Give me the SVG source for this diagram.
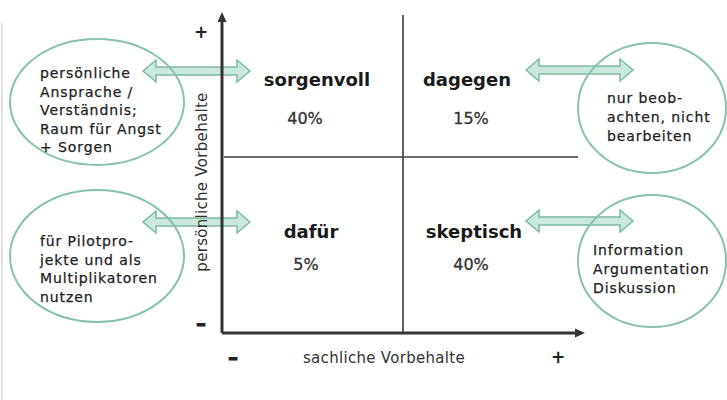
<svg xmlns="http://www.w3.org/2000/svg" xmlns:xlink="http://www.w3.org/1999/xlink" width="727" height="400" viewBox="0 0 727 400">
<style>
.ell{fill:none;stroke:#88c2ac;stroke-width:2}
.et{font-family:"DejaVu Sans",Verdana,sans-serif;font-size:14px;letter-spacing:0.9px;fill:#222;stroke:#222;stroke-width:0.25}
.ql{font-family:"DejaVu Sans",Verdana,sans-serif;font-size:18px;font-weight:bold;fill:#1a1a1a;text-anchor:middle}
.pc{font-family:"DejaVu Sans",Verdana,sans-serif;font-size:16px;fill:#333;stroke:#333;stroke-width:0.3;text-anchor:middle}
.ax{font-family:"DejaVu Sans",Verdana,sans-serif;font-size:15px;letter-spacing:0.3px;fill:#333;text-anchor:middle}
.sg{font-family:"DejaVu Sans",Verdana,sans-serif;font-size:17px;font-weight:bold;fill:#222;text-anchor:middle}
.mn{font-family:"DejaVu Sans",Verdana,sans-serif;font-size:20px;font-weight:bold;fill:#222;stroke:#222;stroke-width:0.9;text-anchor:middle}
.arr{fill:#b8e0cf;fill-opacity:0.75;stroke:#7cb9a0;stroke-width:1.5}
.axis{stroke:#333;stroke-width:3;fill:none}
.grid{stroke:#3a3a3a;stroke-width:1.6;fill:none}
</style>
<defs>
<path id="dbl" d="M0,0 L13,-11 L13,-4 L94,-4 L94,-11 L107,0 L94,11 L94,4 L13,4 L13,11 Z"/>
</defs>
<rect width="727" height="400" fill="#fff"/>
<line x1="2" y1="23" x2="2" y2="400" stroke="#d8d8d8" stroke-width="1.5"/>

<g id="connectors">
<use xlink:href="#dbl" class="arr" transform="translate(143,71)"/>
<use xlink:href="#dbl" class="arr" transform="translate(143,222)"/>
<use xlink:href="#dbl" class="arr" transform="translate(526,70)"/>
<use xlink:href="#dbl" class="arr" transform="translate(526,221)"/>
</g>

<g id="axes">
<line class="axis" x1="222" y1="20" x2="222" y2="333"/>
<polygon points="222,12 217.5,22 226.5,22" fill="#333"/>
<line class="axis" x1="222" y1="333" x2="576" y2="333"/>
<polygon points="585,333 575,328.5 575,337.5" fill="#333"/>
<line class="grid" x1="403" y1="15" x2="403" y2="332"/>
<line class="grid" x1="224" y1="157" x2="578" y2="157"/>
<text class="sg" x="201" y="38">+</text>
<text class="mn" x="201" y="330">–</text>
<text class="mn" x="233" y="364">–</text>
<text class="sg" x="558" y="363">+</text>
<text class="ax" transform="translate(207,182) rotate(-90)">persönliche Vorbehalte</text>
<text class="ax" x="384" y="363">sachliche Vorbehalte</text>
</g>

<g id="q-sorgenvoll">
<text class="ql" x="317" y="86">sorgenvoll</text>
<text class="pc" x="305" y="124">40%</text>
</g>
<g id="q-dagegen">
<text class="ql" x="467" y="86">dagegen</text>
<text class="pc" x="471" y="124">15%</text>
</g>
<g id="q-dafuer">
<text class="ql" x="311" y="238">dafür</text>
<text class="pc" x="306" y="270">5%</text>
</g>
<g id="q-skeptisch">
<text class="ql" x="474" y="238">skeptisch</text>
<text class="pc" x="471" y="270">40%</text>
</g>

<g id="e-sorgen">
<ellipse class="ell" cx="97" cy="102" rx="87" ry="63"/>
<text class="et" x="40" y="78">persönliche</text>
<text class="et" x="40" y="96.5">Ansprache /</text>
<text class="et" x="40" y="115">Verständnis;</text>
<text class="et" x="40" y="133.5">Raum für Angst</text>
<text class="et" x="40" y="152">+ Sorgen</text>
</g>
<g id="e-pilot">
<ellipse class="ell" cx="97" cy="256" rx="87" ry="66"/>
<text class="et" x="40" y="246">für Pilotpro-</text>
<text class="et" x="40" y="264.5">jekte und als</text>
<text class="et" x="40" y="283">Multiplikatoren</text>
<text class="et" x="40" y="301.5">nutzen</text>
</g>
<g id="e-beob">
<ellipse class="ell" cx="652" cy="108" rx="74" ry="65"/>
<text class="et" x="607" y="103">nur beob-</text>
<text class="et" x="607" y="122">achten, nicht</text>
<text class="et" x="607" y="141">bearbeiten</text>
</g>
<g id="e-info">
<ellipse class="ell" cx="652" cy="261" rx="74" ry="66"/>
<text class="et" x="593" y="255">Information</text>
<text class="et" x="593" y="274">Argumentation</text>
<text class="et" x="593" y="293">Diskussion</text>
</g>
</svg>
